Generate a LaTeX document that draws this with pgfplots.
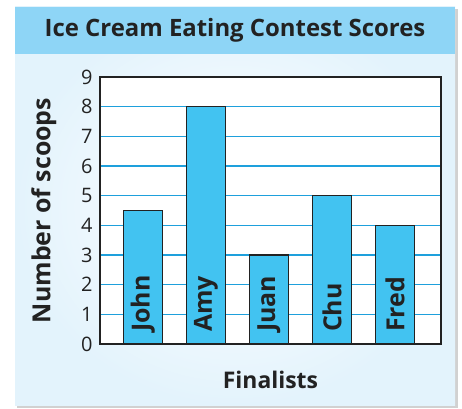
\documentclass[border=0pt]{standalone}
\usepackage{fontspec}
\setmainfont{Open Sans}
\usepackage{pgfplots}
\pgfplotsset{compat=1.18}
\definecolor{band}{HTML}{8ED5F6}
\definecolor{panel}{HTML}{E3F3FC}
\definecolor{barc}{HTML}{42C3F1}
\definecolor{gridc}{HTML}{1EA0DC}
\definecolor{ink}{HTML}{222222}
\begin{document}
\begin{tikzpicture}
\useasboundingbox (0,0) rectangle (462bp,409bp);
\fill[white] (0,0) rectangle (462bp,409bp);
\fill[black!18] (17bp,1bp) rectangle (458bp,400bp);
\shade[inner color=white, outer color=panel] (15bp,3bp) rectangle (455bp,402bp);
\fill[band] (15bp,355bp) rectangle (455bp,402bp);
\node[text=ink, font=\fontsize{24}{28}\selectfont\bfseries] at (235bp,379bp) {Ice Cream Eating Contest Scores};
\begin{axis}[
  at={(100bp,65bp)}, anchor=south west,
  scale only axis, width=341bp, height=267bp,
  ybar, bar width=39bp,
  xmin=-0.68, xmax=4.73, ymin=0, ymax=9,
  xtick=\empty, ytick={0,...,9},
  major tick length=0pt,
  ymajorgrids, grid style={gridc, line width=1.5bp},
  axis line style={ink, line width=1.6bp},
  axis background/.style={fill=white},
  /pgf/number format/assume math mode=true,
  yticklabel style={text=ink, font=\fontsize{20}{22}\selectfont, xshift=-4bp},
  ylabel={\bfseries Number of scoops},
  ylabel style={text=ink, font=\fontsize{25}{28}\selectfont, yshift=18bp},
  xlabel={\bfseries Finalists},
  xlabel style={text=ink, font=\fontsize{23}{26}\selectfont, yshift=-24bp},
]
\addplot[fill=barc, draw=ink, line width=1.5bp] coordinates {(0,4.5) (1,8) (2,3) (3,5) (4,4)};
\foreach \n [count=\i from 0] in {John,Amy,Juan,Chu,Fred} {
  \edef\tmp{\noexpand\node[rotate=90, anchor=west, inner sep=0pt, text=ink, font=\noexpand\fontsize{25}{27}\noexpand\selectfont\noexpand\bfseries] at (axis cs:\i,0.4) {\n};}
  \tmp
}
\end{axis}
\end{tikzpicture}
\end{document}
